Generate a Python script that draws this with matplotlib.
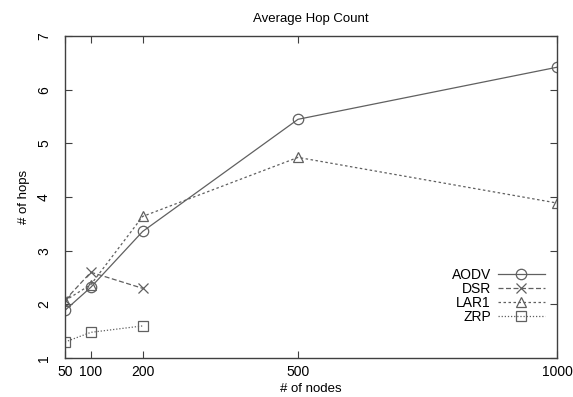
import matplotlib
matplotlib.use("Agg")
import matplotlib.pyplot as plt

plt.rcParams['font.family'] = ['Liberation Sans', 'DejaVu Sans']

nodes = [50, 100, 200, 500, 1000]
aodv = [1.89, 2.32, 3.36, 5.45, 6.42]
dsr_nodes = [50, 100, 200]
dsr = [2.08, 2.60, 2.30]
lar1 = [2.07, 2.37, 3.64, 4.74, 3.89]
zrp_nodes = [50, 100, 200]
zrp = [1.30, 1.48, 1.60]

xticks = [50, 100, 200, 500, 1000]
yticks = [1, 2, 3, 4, 5, 6, 7]

lc = '#606060'
fig = plt.figure(figsize=(5.73, 3.97), dpi=100)
ax = fig.add_axes([0.1134, 0.098, 0.8586, 0.811])

mk = dict(markersize=7.5, markerfacecolor='none', markeredgecolor=lc,
          markeredgewidth=0.9, color=lc, linewidth=0.9)
ax.plot(nodes, aodv, '-', marker='o', label='AODV', **mk)
ax.plot(dsr_nodes, dsr, marker='x', linestyle=(0, (4, 2)), label='DSR', **mk)
ax.plot(nodes, lar1, marker='^', linestyle=(0, (2, 2)), label='LAR1', **mk)
ax.plot(zrp_nodes, zrp, marker='s', linestyle=(0, (1, 1.5)), label='ZRP', **mk)

ax.set_xlim(50, 1000)
ax.set_ylim(1, 7)
ax.set_xticks(xticks)
ax.set_yticks(yticks)
ax.tick_params(direction='in', top=True, right=True, length=5,
               color='#404040', labelsize=10)
ax.tick_params(axis='x', pad=5)
ax.tick_params(axis='y', pad=10)
for lab in ax.get_yticklabels():
    lab.set_rotation(90)
    lab.set_va('center')
for s in ax.spines.values():
    s.set_color('#404040')
    s.set_linewidth(1.0)

ax.set_title('Average Hop Count', fontsize=9.5, pad=10)
ax.set_xlabel('# of nodes', fontsize=9.5, labelpad=3)
ax.set_ylabel('# of hops', fontsize=9.5, labelpad=5)

leg = ax.legend(loc='lower right', bbox_to_anchor=(0.99, 0.085), markerfirst=False,
                frameon=False, fontsize=10, handlelength=3.4, labelspacing=0.0,
                handletextpad=0.5, borderpad=0)

fig.savefig('out.png', dpi=100)
